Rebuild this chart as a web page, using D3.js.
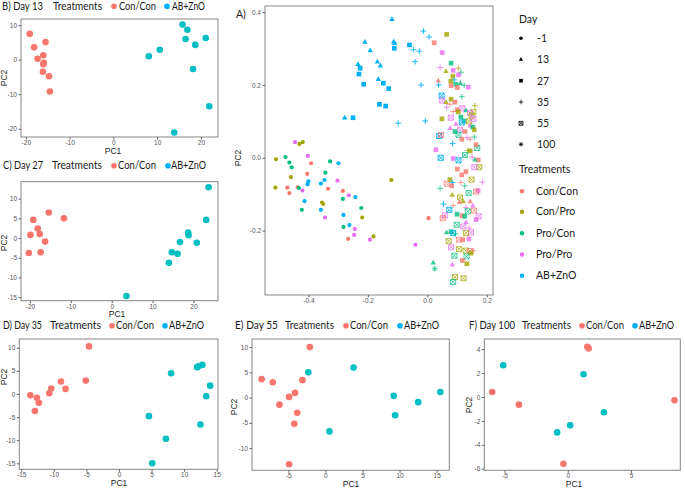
<!DOCTYPE html>
<html><head><meta charset="utf-8">
<script src="https://cdn.jsdelivr.net/npm/d3@7"></script>
<style>body{margin:0;background:#fff}</style>
</head><body>
<svg id="chart" width="685" height="488"></svg>
<script>
// ---------- data ----------
const trtNames = ["Con/Con","Con/Pro","Pro/Con","Pro/Pro","AB+ZnO"];
const trtColors = ["#F8766D","#A3A500","#00BF7D","#E76BF3","#00B0F6"];
const dayLevels = [-1,13,27,35,55,100];
const pairNames = ["Con/Con","AB+ZnO"];

// Panel A: all samples (PC1, PC2, day, treatment index)
const aPC1 = [-0.119,-0.210,-0.192,-0.233,-0.168,-0.158,-0.165,-0.113,-0.110,-0.278,
 -0.226,-0.230,-0.214,-0.148,-0.130,-0.161,-0.140,-0.111,-0.060,-0.250,
 -0.013,0.006,-0.047,-0.027,-0.041,-0.021,-0.098,-0.007,0.038,
 -0.445,-0.430,-0.419,-0.509,-0.477,-0.464,-0.456,-0.459,-0.511,-0.471,-0.464,-0.436,-0.432,-0.420,-0.422,
 -0.402,-0.391,-0.404,-0.400,-0.403,-0.413,-0.354,-0.350,-0.358,-0.346,-0.343,-0.334,-0.327,-0.299,-0.302,
 -0.358,-0.344,-0.284,-0.284,-0.282,-0.282,-0.264,-0.242,-0.262,-0.244,-0.266,-0.246,-0.222,-0.219,-0.193,
 -0.181,-0.121,-0.040,0.004,
 0.023,0.065,0.050,0.080,0.104,0.043,0.063,0.087,0.113,0.105,0.086,0.090,0.037,0.079,0.096,0.111,0.080,0.101,
 0.124,0.138,0.116,0.048,0.050,0.063,0.080,0.076,0.093,0.065,0.101,0.118,0.130,0.155,0.104,0.087,0.160,
 0.049,0.079,0.113,0.124,0.144,0.149,0.141,0.155,0.116,0.096,0.077,0.110,0.093,0.127,0.144,0.153,0.158,
 0.040,0.046,0.085,0.105,0.116,0.134,0.144,0.158,0.029,0.136,0.144,0.168,0.164,0.045,0.087,0.105,0.127,
 0.151,0.171,0.160,0.175,0.158,0.101,0.116,0.130,0.076,0.149,0.084,0.065,0.113,0.082,0.126,0.185,0.171,
 0.164,0.043,0.139,0.084,0.110,0.121,0.144,0.108,0.054,0.087,0.153,0.130,0.074,0.136,0.157,0.059,0.052,
 0.100,0.117,0.126,0.173,0.164,0.099,0.130,0.121,0.141,0.147,0.130,0.065,0.080,0.087,0.095,0.072,0.107,
 0.119,0.140,0.080,0.107,0.129,0.144,0.155,0.147,0.091,0.132,0.118,0.133,0.020,0.025,0.084,0.093,0.122,0.087];
const aPC2 = [0.381,0.318,0.295,0.257,0.264,0.253,0.216,0.319,0.315,0.110,
 0.246,0.230,0.202,0.205,0.190,0.147,0.142,0.301,0.310,0.110,
 0.348,0.332,0.297,0.293,0.264,0.200,0.095,0.101,0.200,
 0.043,0.038,0.043,-0.004,0.002,-0.013,-0.026,-0.053,-0.082,-0.082,-0.097,-0.081,-0.083,-0.090,-0.143,
 0.005,-0.015,-0.044,-0.065,-0.073,-0.119,-0.123,-0.127,-0.071,-0.061,-0.041,-0.085,-0.010,-0.015,-0.063,
 -0.143,-0.164,-0.091,-0.113,-0.157,-0.190,-0.103,-0.108,-0.185,-0.196,-0.223,-0.212,-0.138,-0.164,-0.225,
 -0.216,-0.061,-0.239,-0.166,
 0.316,0.339,0.289,0.260,0.246,0.248,0.238,0.240,0.235,0.228,0.224,0.214,0.212,0.210,0.202,0.205,0.198,0.193,
 0.199,0.194,0.168,0.171,0.157,0.153,0.161,0.147,0.153,0.139,0.132,0.136,0.130,0.126,0.126,0.127,0.143,
 0.107,0.110,0.112,0.101,0.123,0.116,0.100,0.107,0.097,0.093,0.081,0.077,0.072,0.072,0.088,0.084,0.077,
 0.060,0.063,0.039,0.063,0.051,0.055,0.051,0.057,0.022,0.020,0.019,0.027,0.036,0.000,-0.002,-0.007,0.008,
 0.002,-0.006,-0.005,-0.026,-0.026,-0.031,-0.047,-0.038,-0.060,-0.060,-0.068,-0.071,-0.068,-0.077,-0.077,-0.067,-0.090,
 -0.093,-0.084,-0.097,-0.102,-0.109,-0.120,-0.120,-0.122,-0.127,-0.131,-0.132,-0.137,-0.143,-0.147,-0.145,-0.158,-0.166,
 -0.155,-0.159,-0.161,-0.161,-0.170,-0.184,-0.177,-0.189,-0.193,-0.205,-0.207,-0.205,-0.203,-0.207,-0.209,-0.229,-0.225,
 -0.225,-0.223,-0.246,-0.251,-0.255,-0.256,-0.255,-0.262,-0.269,-0.271,-0.282,-0.291,-0.288,-0.305,-0.294,-0.328,-0.331,-0.341];
const aDay = [13,13,13,13,13,13,13,13,13,13,
 27,27,27,27,27,27,27,27,27,27,
 35,35,35,35,35,35,35,35,35,
 -1,-1,-1,-1,-1,-1,-1,-1,-1,-1,-1,-1,-1,-1,-1,
 -1,-1,-1,-1,-1,-1,-1,-1,-1,-1,-1,-1,-1,-1,-1,
 -1,-1,-1,-1,-1,-1,-1,-1,-1,-1,-1,-1,-1,-1,-1,
 -1,-1,-1,-1,
 27,27,27,27,35,35,13,27,35,27,27,35,13,27,27,13,27,27,
 35,27,35,55,55,13,27,35,27,35,27,55,13,55,27,35,35,
 27,55,27,27,55,55,55,55,55,13,13,55,27,27,13,27,27,
 55,55,35,55,27,35,35,35,27,35,27,55,27,55,27,55,55,
 35,27,13,55,55,27,27,27,27,55,35,55,35,27,35,35,27,
 55,35,55,13,55,13,13,13,35,35,13,35,55,55,55,55,55,
 27,27,27,55,27,55,13,55,35,55,55,13,27,55,35,55,55,
 27,27,55,55,55,55,35,27,55,55,27,27,13,100,13,55,55,55];
const aTrt = [4,4,4,4,4,4,4,4,4,4,
 4,4,4,4,4,4,4,4,4,4,
 4,4,4,4,4,4,4,4,4,
 3,1,1,1,2,2,2,1,1,0,0,0,2,3,2,
 3,0,0,4,4,4,1,1,4,4,2,0,2,4,3,
 4,3,0,2,4,2,3,4,4,3,0,3,2,1,3,
 1,1,3,0,
 0,1,3,2,1,3,1,3,2,3,1,4,0,1,2,2,0,0,
 2,3,2,4,3,1,1,0,0,3,0,3,2,1,1,0,1,
 1,3,2,2,3,1,1,3,4,3,3,3,2,0,3,2,1,
 4,0,4,2,0,3,0,2,3,1,1,2,0,4,3,4,2,
 3,0,2,1,3,0,0,0,1,1,4,0,0,0,2,3,3,
 0,2,2,1,1,1,0,0,4,0,3,3,4,2,0,3,0,
 2,0,2,3,3,2,3,3,3,3,1,2,2,4,2,1,0,
 0,3,3,1,1,0,0,1,2,2,0,1,2,2,3,1,1,2];

// Panel B: Day 13
const bConPC1 = [-19.1,-18.1,-15.5,-17.3,-16.0,-15.9,-16.0,-16.1,-14.7,-14.5];
const bConPC2 = [7.5,3.6,5.1,0.3,1.3,-0.9,-1.3,-3.5,-4.8,-9.2];
const bAbPC1 = [15.8,16.9,16.5,18.7,21.1,10.6,8.1,18.2,21.9,13.9];
const bAbPC2 = [10.2,8.7,6.0,4.3,6.3,2.9,1.0,-2.7,-13.5,-21.1];
// Panel C: Day 27
const cConPC1 = [-20.3,-19.9,-19.2,-18.1,-17.6,-17.4,-16.3,-15.4,-11.7];
const cConPC2 = [-3.8,0.8,4.6,2.4,1.0,-3.6,-0.9,6.5,5.0];
const cAbPC1 = [3.6,14.0,14.7,16.1,16.7,18.7,18.8,20.8,23.1,23.7];
const cAbPC2 = [-14.7,-6.3,-3.6,-4.0,-1.0,1.4,0.7,-1.2,4.6,12.9];
// Panel D: Day 35
const dConPC1 = [-4.6,-13.6,-12.6,-12.3,-12.9,-10.7,-10.4,-8.9,-8.2,-5.1];
const dConPC2 = [10.3,-0.3,-0.8,-1.9,-3.7,0.15,1.2,2.7,1.1,2.9];
const dAbPC1 = [8.0,12.0,12.2,12.8,14.0,13.4,12.5,4.6,7.2,5.1];
const dAbPC2 = [4.5,5.8,6.0,6.3,1.8,-0.5,-6.6,-4.8,-9.7,-15.0];
// Panel E: Day 55
const eConPC1 = [-2.1,-8.6,-7.1,-3.1,-4.1,-4.9,-6.2,-3.8,-4.2,-4.9];
const eConPC2 = [10.0,3.65,3.05,3.45,0.93,0.13,-1.4,-3.0,-5.2,-13.2];
const eAbPC1 = [-2.3,3.8,0.54,9.2,9.4,12.5,15.5];
const eAbPC2 = [5.0,5.95,-6.7,0.34,-3.5,-0.9,1.1];
// Panel F: Day 100
const fConPC1 = [1.55,1.65,-5.98,-3.86,8.44,-0.34];
const fConPC2 = [4.2,4.05,0.42,-0.64,-0.28,-5.58];
const fAbPC1 = [-5.1,1.25,2.86,0.19,-0.84];
const fAbPC2 = [2.65,1.9,-1.28,-2.37,-2.96];

// tick labels
const aXTicks = [-0.4,-0.2,0.0,0.2], aYTicks = [-0.2,0.0,0.2,0.4];
const bXTicks = [-20,-10,0,10,20], bYTicks = [-20,-10,0,10];
const cXTicks = [-20,-10,0,10,20], cYTicks = [-15,-10,-5,0,5,10];
const dXTicks = [-15,-10,-5,0,5,10,15], dYTicks = [-15,-10,-5,0,5,10];
const eXTicks = [-5,0,5,10,15], eYTicks = [-10,-5,0,5,10];
const fXTicks = [-5,0,5], fYTicks = [-6,-4,-2,0,2,4];

// ---------- drawing ----------
const svg = d3.select("#chart");
const TXT = "Lato, 'Open Sans', sans-serif";
const TICKF = "'Liberation Sans', Arial, sans-serif";
const pairColors = ["#F8766D","#00BFC4"];
const pairLegendColors = ["#F8766D","#00B0F6"];

function axes(g, x, y, L, R, T, B, xt, yt, fmt) {
  g.append("rect").attr("x",L).attr("y",T).attr("width",R-L).attr("height",B-T)
    .attr("fill","#fff").attr("stroke","#858585").attr("stroke-width",1);
  const ax = g.append("g").attr("transform",`translate(0,${B})`)
    .call(d3.axisBottom(x).tickValues(xt).tickSize(2.5).tickPadding(1).tickFormat(fmt));
  const ay = g.append("g").attr("transform",`translate(${L},0)`)
    .call(d3.axisLeft(y).tickValues(yt).tickSize(2.5).tickPadding(1.5).tickFormat(fmt));
  [ax,ay].forEach(a=>{
    a.select(".domain").remove();
    a.selectAll("line").attr("stroke","#666");
    a.selectAll("text").attr("font-size",6.5).attr("fill","#555").attr("font-family",TICKF);
  });
}

function axisTitles(g, pc1x, pc1y, pc2x, pc2y) {
  g.append("text").attr("x",pc1x).attr("y",pc1y).attr("text-anchor","middle")
    .attr("font-size",8.5).attr("font-family",TICKF).attr("fill","#222").text("PC1");
  g.append("text").attr("transform",`translate(${pc2x},${pc2y}) rotate(-90)`).attr("text-anchor","middle")
    .attr("font-size",8.5).attr("font-family",TICKF).attr("fill","#222").text("PC2");
}

function fitText(sel, x, y, str, w) {
  return sel.append("text").attr("x",x).attr("y",y).attr("textLength",w)
    .attr("lengthAdjust","spacingAndGlyphs").text(str);
}

function smallPanel(p) {
  const g = svg.append("g");
  const x = d3.scaleLinear().domain(p.xd).range([p.L,p.R]);
  const y = d3.scaleLinear().domain(p.yd).range([p.B,p.T]);
  axes(g, x, y, p.L, p.R, p.T, p.B, p.xt, p.yt, d=>String(d));
  axisTitles(g, p.pc1[0], p.pc1[1], p.pc2[0], p.pc2[1]);
  const sets = [[p.conX,p.conY],[p.abX,p.abY]];
  sets.forEach((s,i)=>{
    g.selectAll(null).data(d3.range(s[0].length)).join("circle")
      .attr("cx",k=>x(s[0][k])).attr("cy",k=>y(s[1][k])).attr("r",3.3)
      .attr("fill",pairColors[i]);
  });
  // title: x positions and widths of [label, Treatments, dot1, name1, dot2, name2]
  const t = p.title, by = t.y;
  const tg = svg.append("g").attr("font-family",TXT).attr("font-size",10.5).attr("fill","#1a1a1a");
  fitText(tg, t.x[0], by, t.label, t.w[0]);
  fitText(tg, t.x[1], by, "Treatments", t.w[1]);
  pairNames.forEach((n,i)=>{
    tg.append("circle").attr("cx",t.x[2+2*i]).attr("cy",by-3.3).attr("r",2.8).attr("fill",pairLegendColors[i]);
    fitText(tg, t.x[3+2*i], by, n, t.w[2+i]);
  });
}

smallPanel({L:21,R:218,T:19,B:137,xd:[-21.1,23.9],yd:[-22.4,11.8],xt:bXTicks,yt:bYTicks,
  conX:bConPC1,conY:bConPC2,abX:bAbPC1,abY:bAbPC2,pc1:[113,153.5],pc2:[7,78],
  title:{y:9.5,x:[2,53,114,119,167,172],w:[41,49,37,33],label:"B) Day 13"}});
smallPanel({L:21,R:218,T:181.7,B:300.7,xd:[-22.2,26.0],yd:[-15.9,14.3],xt:cXTicks,yt:cYTicks,
  conX:cConPC1,conY:cConPC2,abX:cAbPC1,abY:cAbPC2,pc1:[117,316.5],pc2:[7,243],
  title:{y:169,x:[3,52,114,118,168,171],w:[40,50,38,35],label:"C) Day 27"}});
smallPanel({L:19.3,R:218,T:339,B:469.3,xd:[-15.3,15.2],yd:[-16.3,11.9],xt:dXTicks,yt:dYTicks,
  conX:dConPC1,conY:dConPC2,abX:dAbPC1,abY:dAbPC2,pc1:[119,486],pc2:[7,377],
  title:{y:329,x:[3,50,112,116,165,169],w:[39,51,38,35],label:"D) Day 35"}});
smallPanel({L:252,R:449.3,T:339,B:470.3,xd:[-9.9,16.7],yd:[-14.4,11.6],xt:eXTicks,yt:eYTicks,
  conX:eConPC1,conY:eConPC2,abX:eAbPC1,abY:eAbPC2,pc1:[351,486.5],pc2:[237,407],
  title:{y:329,x:[235,285,346,350,400,404],w:[43,49,38,35],label:"E) Day 55"}});
smallPanel({L:484.3,R:680.3,T:339,B:470.3,xd:[-6.6,8.9],yd:[-6.13,4.85],xt:fXTicks,yt:fYTicks,
  conX:fConPC1,conY:fConPC2,abX:fAbPC1,abY:fAbPC2,pc1:[574,486.5],pc2:[472,405],
  title:{y:329,x:[469,522,582,586,635,639],w:[46,49,38,35],label:"F) Day 100"}});

// ---------- Panel A ----------
function symPath(day, s) {
  switch(day){
    case -1: return d3.symbol(d3.symbolCircle, Math.PI*(2.2*s)*(2.2*s))();
    case 13: return `M0,${-3.3*s}L${3*s},${2*s}L${-3*s},${2*s}Z`;
    case 27: return `M${-2.6*s},${-2.6*s}h${5.2*s}v${5.2*s}h${-5.2*s}Z`;
    case 35: return `M${-3.2*s},0H${3.2*s}M0,${-3.2*s}V${3.2*s}`;
    case 55: return `M${-2.8*s},${-2.8*s}h${5.6*s}v${5.6*s}h${-5.6*s}ZM${-2.8*s},${-2.8*s}L${2.8*s},${2.8*s}M${2.8*s},${-2.8*s}L${-2.8*s},${2.8*s}`;
    default: return `M${-3.2*s},0H${3.2*s}M0,${-3.2*s}V${3.2*s}M${-2.3*s},${-2.3*s}L${2.3*s},${2.3*s}M${2.3*s},${-2.3*s}L${-2.3*s},${2.3*s}`;
  }
}
const filledDay = d => d===-1||d===13||d===27;
{
  const L=265,R=493,T=6,B=295;
  const g = svg.append("g");
  const x = d3.scaleLinear().domain([-0.546,0.221]).range([L,R]);
  const y = d3.scaleLinear().domain([-0.377,0.417]).range([B,T]);
  axes(g, x, y, L, R, T, B, aXTicks, aYTicks, d=>d.toFixed(1));
  g.append("text").attr("transform",`translate(241,158) rotate(-90)`).attr("text-anchor","middle")
    .attr("font-size",8.5).attr("font-family",TICKF).attr("fill","#222").text("PC2");
  g.append("text").attr("x",236).attr("y",18).attr("font-size",10.5).attr("font-family",TXT).attr("fill","#1a1a1a").text("A)");
  g.selectAll(null).data(d3.range(aPC1.length)).join("path")
    .attr("transform",k=>`translate(${x(aPC1[k])},${y(aPC2[k])})`)
    .attr("d",k=>symPath(aDay[k], aDay[k]===-1?0.95:0.9))
    .attr("fill",k=>filledDay(aDay[k])?trtColors[aTrt[k]]:"none")
    .attr("stroke",k=>filledDay(aDay[k])?"none":trtColors[aTrt[k]])
    .attr("stroke-width",0.9)
    .attr("opacity",k=>aDay[k]===-1||aTrt[k]===4?1:0.8);
}

// ---------- Legend ----------
{
  const lg = svg.append("g").attr("font-family",TXT).attr("fill","#1a1a1a");
  lg.append("text").attr("x",519).attr("y",23).attr("font-size",10.5).text("Day");
  const dayRowY = [38.3,59.3,80.7,102,123.3,144.3];
  dayLevels.forEach((d,i)=>{
    lg.append("path").attr("transform",`translate(521,${dayRowY[i]})`)
      .attr("d",symPath(d, d===-1?0.8:0.7))
      .attr("fill",filledDay(d)?"#000":"none").attr("stroke",filledDay(d)?"none":"#000").attr("stroke-width",0.8);
    lg.append("text").attr("x",537).attr("y",dayRowY[i]+3.8).attr("font-size",10.5).text(String(d));
  });
  lg.append("text").attr("x",519).attr("y",173).attr("font-size",10.5).text("Treatments");
  const trtRowY = [190.7,211.3,232.7,254,275.3];
  trtNames.forEach((n,i)=>{
    lg.append("circle").attr("cx",522).attr("cy",trtRowY[i]+0.5).attr("r",2.2).attr("fill",trtColors[i]);
    lg.append("text").attr("x",536).attr("y",trtRowY[i]+3.8).attr("font-size",10.5).text(n);
  });
}
</script>
</body></html>
